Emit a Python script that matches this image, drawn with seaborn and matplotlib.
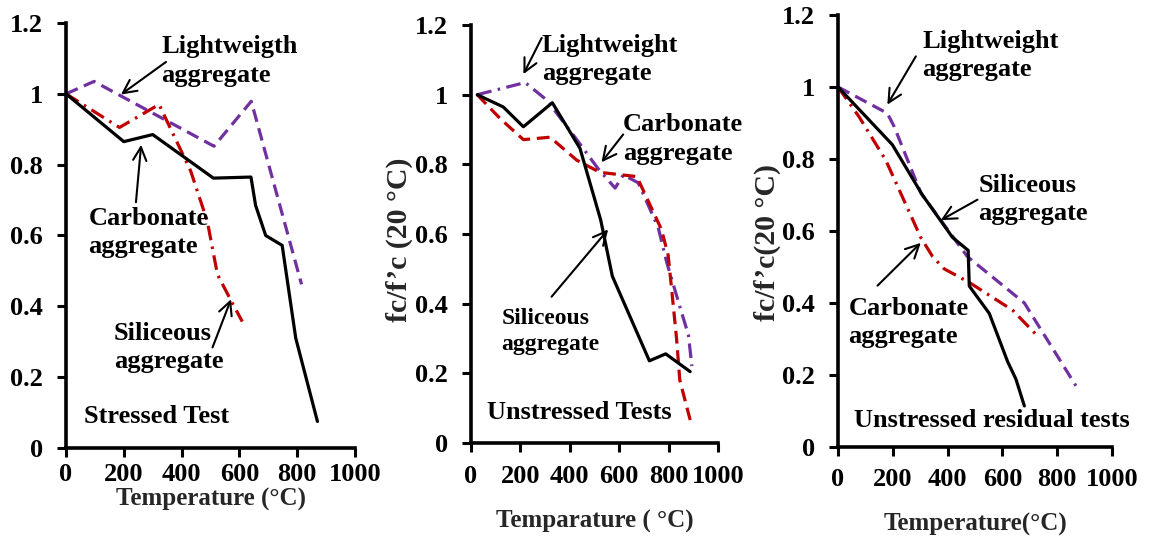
import matplotlib
matplotlib.use("Agg")
import matplotlib.pyplot as plt
import seaborn as sns

# ---- Stressed test ----
st_carb_T = [0, 200, 300, 510, 640, 656, 691, 748, 795, 870]
st_carb_r = [1.0, 0.865, 0.885, 0.762, 0.765, 0.685, 0.60, 0.572, 0.31, 0.075]
st_light_T = [0, 97, 512, 641, 815]
st_light_r = [1.0, 1.035, 0.852, 0.979, 0.462]
st_sil_T = [0, 185, 322, 431, 489, 524, 575, 610]
st_sil_r = [1.0, 0.905, 0.97, 0.783, 0.64, 0.49, 0.41, 0.357]

# ---- Unstressed tests ----
un_sil_T = [25, 130, 212, 329, 441, 525, 572, 722, 788, 887]
un_sil_r = [1.0, 0.965, 0.908, 0.977, 0.846, 0.64, 0.479, 0.236, 0.256, 0.205]
un_carb_T = [25, 120, 212, 320, 428, 522, 671, 771, 798, 811, 832, 845, 892]
un_carb_r = [1.0, 0.93, 0.871, 0.878, 0.812, 0.777, 0.765, 0.613, 0.539, 0.449, 0.30, 0.181, 0.053]
un_light_T = [25, 219, 306, 428, 515, 583, 617, 677, 758, 792, 846, 880, 894]
un_light_r = [1.0, 1.035, 0.985, 0.871, 0.787, 0.732, 0.77, 0.747, 0.618, 0.519, 0.39, 0.31, 0.221]

# ---- Unstressed residual tests ----
res_sil_T = [0, 198, 308, 418, 475, 479, 552, 619, 649, 680]
res_sil_r = [1.0, 0.84, 0.70, 0.582, 0.546, 0.447, 0.371, 0.237, 0.189, 0.114]
res_light_T = [0, 180, 205, 302, 472, 680, 868]
res_light_r = [1.0, 0.927, 0.89, 0.706, 0.529, 0.40, 0.17]
res_carb_T = [0, 77, 174, 302, 345, 387, 479, 637, 722]
res_carb_r = [1.0, 0.917, 0.797, 0.582, 0.529, 0.495, 0.457, 0.38, 0.313]

x_ticks = [0, 200, 400, 600, 800, 1000]
x_tick_labels = ["0", "200", "400", "600", "800", "1000"]
y_ticks = [0, 0.2, 0.4, 0.6, 0.8, 1.0, 1.2]
y_tick_labels = ["0", "0.2", "0.4", "0.6", "0.8", "1", "1.2"]

BLACK = "#000000"
RED = "#C00000"
PURPLE = "#7030A0"
DASHED = (4.0, 2.1)
DASHDOT = (4.6, 2.0, 0.8, 2.0)

sns.set_style("ticks")
plt.rcParams["font.family"] = ["Liberation Serif", "DejaVu Serif"]
plt.rcParams["font.weight"] = "bold"

fig = plt.figure(figsize=(11.5, 5.41), dpi=100)
fig.patch.set_facecolor("white")

axes_boxes = [
    [0.0574, 0.1719, 0.2513, 0.7856],
    [0.4096, 0.1811, 0.2148, 0.7726],
    [0.7287, 0.1738, 0.2383, 0.7985],
]


def draw(ax, T, r, color, dashes=None):
    sns.lineplot(x=T, y=r, ax=ax, color=color, lw=2.3, sort=False, estimator=None)
    line = ax.lines[-1]
    if dashes is not None:
        line.set_dashes(dashes)


def style_axes(ax, xpad):
    ax.set_xlim(0, 1000)
    ax.set_ylim(0, 1.2)
    ax.set_xticks(x_ticks)
    ax.set_xticklabels(x_tick_labels)
    ax.set_yticks(y_ticks)
    ax.set_yticklabels(y_tick_labels)
    for s in ["top", "right"]:
        ax.spines[s].set_visible(False)
    for s in ["left", "bottom"]:
        ax.spines[s].set_linewidth(2.6)
        ax.spines[s].set_color("black")
    ax.tick_params(axis="both", direction="out", length=6.5, width=2.2,
                   colors="black", labelsize=19)
    ax.tick_params(axis="x", pad=xpad)
    ax.tick_params(axis="y", pad=10)
    for lab in ax.get_xticklabels() + ax.get_yticklabels():
        lab.set_fontweight("bold")
    ax.set_facecolor("white")
    ax.grid(False)


def label(ax, x, y, s, size=19):
    ax.text(x, y, s, ha="left", va="center", fontsize=size, fontweight="bold",
            linespacing=1.3, color="black")


def arrow(ax, head, tail):
    ax.annotate("", xy=head, xytext=tail,
                arrowprops=dict(arrowstyle="->", lw=1.5, color="black",
                                mutation_scale=24, shrinkA=0, shrinkB=0))


axs = [fig.add_axes(b) for b in axes_boxes]

# Stressed test
ax = axs[0]
draw(ax, st_light_T, st_light_r, PURPLE, DASHED)
draw(ax, st_sil_T, st_sil_r, RED, DASHDOT)
draw(ax, st_carb_T, st_carb_r, BLACK)
style_axes(ax, xpad=4)
label(ax, 329, 1.093, "Lightweigth\naggregate")
arrow(ax, (190, 0.998), (346, 1.09))
label(ax, 78, 0.608, "Carbonate\naggregate")
arrow(ax, (260, 0.856), (242, 0.694))
label(ax, 165, 0.284, "Siliceous\naggregate")
arrow(ax, (571, 0.42), (507, 0.284))
label(ax, 63, 0.088, "Stressed Test")
ax.set_xlabel("Temperature (°C)", fontsize=18, fontweight="bold", labelpad=2)

# Unstressed tests
ax = axs[1]
draw(ax, un_light_T, un_light_r, PURPLE, DASHDOT)
draw(ax, un_carb_T, un_carb_r, RED, DASHED)
draw(ax, un_sil_T, un_sil_r, BLACK)
style_axes(ax, xpad=9.5)
label(ax, 286, 1.101, "Lightweight\naggregate")
arrow(ax, (212, 1.059), (286, 1.163))
label(ax, 616, 0.873, "Carbonate\naggregate")
arrow(ax, (528, 0.806), (616, 0.886))
label(ax, 124, 0.32, "Siliceous\naggregate", size=17)
arrow(ax, (555, 0.613), (326, 0.42))
label(ax, 63, 0.087, "Unstressed Tests")
ax.set_xlabel("Temparature ( °C)", fontsize=18, fontweight="bold", labelpad=15.7)
ax.text(-290, 0.583, "fc/f’c (20 °C)", rotation=90, ha="center", va="center",
        fontsize=21.5, fontweight="bold", clip_on=False)

# Unstressed residual tests
ax = axs[2]
draw(ax, res_light_T, res_light_r, PURPLE, DASHED)
draw(ax, res_carb_T, res_carb_r, RED, DASHDOT)
draw(ax, res_sil_T, res_sil_r, BLACK)
style_axes(ax, xpad=8.5)
label(ax, 308, 1.088, "Lightweight\naggregate")
arrow(ax, (180, 0.951), (284, 1.085))
label(ax, 512, 0.687, "Siliceous\naggregate")
arrow(ax, (375, 0.63), (509, 0.687))
label(ax, 38, 0.345, "Carbonate\naggregate")
arrow(ax, (302, 0.567), (144, 0.448))
label(ax, 58, 0.074, "Unstressed residual tests")
ax.set_xlabel("Temperature(°C)", fontsize=18, fontweight="bold", labelpad=15.6)
ax.text(-258, 0.569, "fc/f’c(20 °C)", rotation=90, ha="center", va="center",
        fontsize=21.5, fontweight="bold", clip_on=False)

fig.savefig("out.png", dpi=100, facecolor="white")
